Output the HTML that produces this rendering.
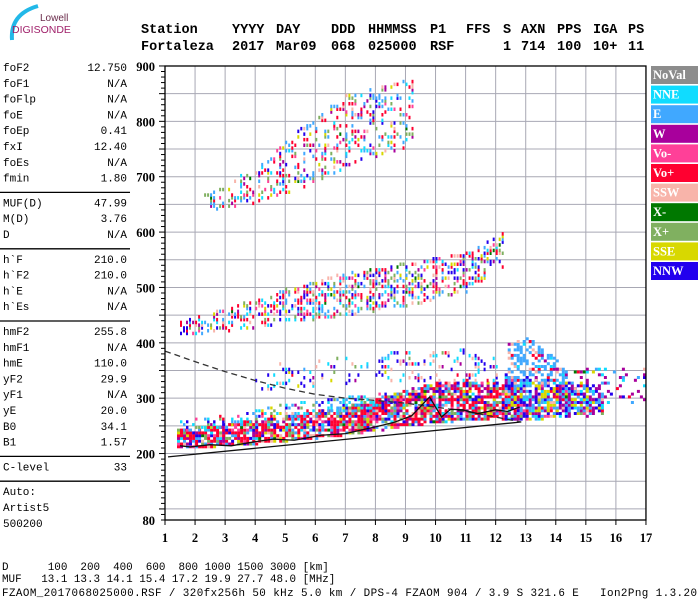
<!DOCTYPE html>
<html><head><meta charset="utf-8"><title>Ionogram Fortaleza</title>
<style>
body{margin:0;background:#fff;}
#wrap{position:relative;width:700px;height:600px;overflow:hidden;background:#fff;}
svg text{font-family:"Liberation Mono",monospace;}
.mono{font-family:"Liberation Mono",monospace;font-size:11px;fill:#000;}
.foot{font-family:"Liberation Mono",monospace;font-size:10.9px;fill:#000;}
.hdr{font-family:"Liberation Mono",monospace;font-size:13.5px;font-weight:bold;fill:#000;}
.ax{font-family:"Liberation Serif",serif;font-size:12.5px;font-weight:bold;fill:#000;}
.leg{font-family:"Liberation Serif",serif;font-size:12.5px;font-weight:bold;fill:#fff;}
</style></head>
<body>
<div id="wrap">
<svg id="svg" width="700" height="600" xmlns="http://www.w3.org/2000/svg">
  <g>
    <path d="M12 40 Q10 14 38 6" stroke="#22b8e8" stroke-width="4" fill="none"/>
    <text x="40" y="21" style="font-family:'Liberation Sans',sans-serif;font-size:10px;fill:#6a2a4a">Lowell</text>
    <text x="12" y="33" style="font-family:'Liberation Sans',sans-serif;font-size:10.5px;fill:#a0206a">DIGISONDE</text>
  </g>
  <g id="header"></g>
  <g id="params"></g>
  <g id="grid"></g>
  <g id="echoes"></g>
  <g id="traces"></g>
  <g id="axes"></g>
  <g id="legend"></g>
  <g id="footer"></g>
</svg>
</div>
<script>
// ---------- data ----------
const freqTicks = [1,2,3,4,5,6,7,8,9,10,11,12,13,14,15,16,17];
const heightTicks = [900,800,700,600,500,400,300,200,80];
const legendNames = ["NoVal","NNE","E","W","Vo-","Vo+","SSW","X-","X+","SSE","NNW"];
const legendColors = ["#8c8c8c","#10dcff","#40a8ff","#a8009c","#ff4098","#ff0030","#f8b4aa","#007800","#80b060","#d8d800","#2200ee"];
// echo band definitions: frequency nodes, lower/upper virtual heights (km)
const mainF = [1.4,2,3,4,5,6,7,8,9,10,11,12,12.8];
const mainLow = [212,213,216,220,225,230,236,243,252,258,262,266,262];
const mainHigh = [245,248,256,264,270,278,288,300,318,330,335,330,320];
const fringeF = [1.5,3,5,7,9];
const fringeLow = [240,250,262,275,290];
const fringeHigh = [262,272,292,305,315];
const eastF = [12.3,13,14,15,15.5];
const eastLow = [262,264,266,270,275];
const eastHigh = [345,340,335,325,310];
const eastTopF = [12.4,13,13.6,14.2];
const eastTopLow = [330,330,330,330];
const eastTopHigh = [405,412,395,360];
const tailF = [14,15,16,16.95];
const tailLow = [290,290,290,292];
const tailHigh = [358,356,356,356];
const scatF = [4,6,8,10,12];
const scatLow = [318,325,335,335,330];
const scatHigh = [365,370,385,392,388];
const hop2F = [1.5,3,5,7,9,11,12.2];
const hop2Low = [418,422,438,452,468,495,540];
const hop2High = [440,465,500,530,548,565,600];
const hop3F = [2.3,4,5.5,7,9.2];
const hop3Low = [640,655,680,720,760];
const hop3High = [670,720,790,850,880];
// traces
const lowerLineF = [1.1,12.85];
const lowerLineH = [194,257];
const dashF = [1,2,3,4,5,6,7,8,9,10,11,12,12.85];
const dashH = [385,366,348,332,318,307,300,296,291,284,276,266,257];
const traceF = [1.5,1.84,2.5,3.2,3.95,4.6,5.3,6.2,7,7.98,8.6,9.2,9.8,10.2,10.5,10.9,11.4,12,12.4,12.8];
const traceH = [214,212,216,214,221,226,224,233,236,248,256,268,302,266,280,279,272,279,276,284];
const leftLabels = [["foF2","12.750"],["foF1","N/A"],["foFlp","N/A"],["foE","N/A"],["foEp","0.41"],["fxI","12.40"],["foEs","N/A"],["fmin","1.80"],null,["MUF(D)","47.99"],["M(D)","3.76"],["D","N/A"],null,["h`F","210.0"],["h`F2","210.0"],["h`E","N/A"],["h`Es","N/A"],null,["hmF2","255.8"],["hmF1","N/A"],["hmE","110.0"],["yF2","29.9"],["yF1","N/A"],["yE","20.0"],["B0","34.1"],["B1","1.57"],null,["C-level","33"],null,["Auto:",""],["Artist5",""],["500200",""]];

// ---------- helpers ----------
const NS="http://www.w3.org/2000/svg";
const X0=165, XS=30.06, Y0=520, YS=0.5537;
function xF(f){return X0+(f-1)*XS;}
function yH(h){return Y0-(h-80)*YS;}
function mk(tag,attrs,parent){const e=document.createElementNS(NS,tag);for(const k in attrs)e.setAttribute(k,attrs[k]);parent.appendChild(e);return e;}
function interp(fs,vs,f){if(f<=fs[0])return vs[0];for(let i=1;i<fs.length;i++){if(f<=fs[i]){const t=(f-fs[i-1])/(fs[i]-fs[i-1]);return vs[i-1]+t*(vs[i]-vs[i-1]);}}return vs[vs.length-1];}
function hs(a,b,c){let n=(a*73856093)^(b*19349663)^(c*83492791);n=(n^(n>>>13))*1274126177;n=n^(n>>>16);return ((n>>>0)%10000)/10000;}

// ---------- header ----------
const hdr=document.getElementById('header');
const cols=[["Station","Fortaleza",141],["YYYY","2017",232],["DAY","Mar09",276],["DDD","068",331],["HHMMSS","025000",368],["P1","RSF",430],["FFS","",466],["S","1",503],["AXN","714",521],["PPS","100",557],["IGA","10+",593],["PS","11",628]];
cols.forEach(c=>{
  const t1=mk('text',{x:c[2],y:33,class:'hdr'},hdr);t1.textContent=c[0];
  
  
  const t2=mk('text',{x:c[2],y:50,class:'hdr'},hdr);t2.textContent=c[1];
  
  
});

// ---------- left params ----------
const pg=document.getElementById('params');
let py=71;
leftLabels.forEach(r=>{
  if(r===null){
    const l=mk('line',{x1:0,x2:130,y1:py-5,y2:py-5,stroke:'#000','stroke-width':1.3},pg);
    
    
    py+=9;return;
  }
  const a=mk('text',{x:3,y:py,class:'mono'},pg);a.textContent=r[0];
  
  
  const b=mk('text',{x:127,y:py,class:'mono','text-anchor':'end'},pg);b.textContent=r[1];
  
  
  py+=15.8;
});

// ---------- grid ----------
const gg=document.getElementById('grid');
for(let f=2;f<=16;f++){
  const l=mk('line',{x1:xF(f),x2:xF(f),y1:66,y2:Y0,stroke:'#a8a8b4','stroke-width':1},gg);
  
  
}
for(let h=100;h<900;h+=50){
  const l=mk('line',{x1:X0,x2:xF(17),y1:yH(h),y2:yH(h),stroke:'#a8a8b4','stroke-width':1},gg);
  
  
}

// ---------- echoes ----------
const eg=document.getElementById('echoes');
const bands=[
  {F:mainF,L:mainLow,H:mainHigh,d:0.8,w:[0,3,8,7,4,28,2,1,8,3,7],id:1,cw:3,ch:3},
  {F:fringeF,L:fringeLow,H:fringeHigh,d:0.4,w:[0,8,6,2,1,2,1,0,3,1,5],id:2,cw:2.4,ch:3},
  {F:eastF,L:eastLow,H:eastHigh,d:0.78,w:[0,4,9,7,1,2,2,0,1,8,9],id:3,cw:3,ch:3},
  {F:eastTopF,L:eastTopLow,H:eastTopHigh,d:0.5,w:[0,1,12,1,0,1,2,0,0,0,0],id:4,cw:3,ch:3},
  {F:tailF,L:tailLow,H:tailHigh,d:0.2,w:[0,3,3,8,0,1,1,1,0,1,2],id:5,cw:3,ch:3},
  {F:scatF,L:scatLow,H:scatHigh,d:0.16,w:[0,6,1,1,0,2,5,0,1,1,7],id:6,cw:2,ch:3.5},
  {F:hop2F,L:hop2Low,H:hop2High,d:0.45,w:[0,4,6,3,3,8,3,1,5,3,5],id:7,cw:2,ch:3.5},
  {F:hop3F,L:hop3Low,H:hop3High,d:0.3,w:[0,3,8,3,2,7,2,1,4,2,3],id:8,cw:2,ch:3.5}
];
bands.forEach(b=>{
  const tot=b.w.reduce((a,c)=>a+c,0);
  const i0=Math.round(b.F[0]*20), i1=Math.round(b.F[b.F.length-1]*20);
  for(let i=i0;i<=i1;i+=2){
    const f=i/20;
    const lo=interp(b.F,b.L,f), hi=interp(b.F,b.H,f);
    for(let j=Math.ceil(lo/5); j*5<=hi; j++){
      const h=j*5;
      if(hs(i,j,b.id)>b.d)continue;
      let r=hs(j+7,i+3,b.id+9)*tot, ci=0;
      for(;ci<b.w.length;ci++){r-=b.w[ci];if(r<0)break;}
      const rc=mk('rect',{x:xF(f).toFixed(1),y:yH(h).toFixed(1),width:b.cw,height:b.ch,fill:legendColors[Math.min(ci,10)]},eg);
      
      
    }
  }
});

// ---------- traces ----------
const tg=document.getElementById('traces');
const lowerPath=mk('polyline',{points:lowerLineF.map((f,i)=>xF(f)+','+yH(lowerLineH[i])).join(' '),stroke:'#111',fill:'none','stroke-width':1.3},tg);


const dashPath=mk('polyline',{points:dashF.map((f,i)=>xF(f)+','+yH(dashH[i])).join(' '),stroke:'#333',fill:'none','stroke-width':1.3,'stroke-dasharray':'6,4'},tg);


const tracePath=mk('polyline',{points:traceF.map((f,i)=>xF(f)+','+yH(traceH[i])).join(' '),stroke:'#111',fill:'none','stroke-width':1.3},tg);



// ---------- axes ----------
const ag=document.getElementById('axes');
const frame=mk('rect',{x:X0,y:66,width:xF(17)-X0,height:Y0-66,fill:'none',stroke:'#000','stroke-width':1.3},ag);


for(let h=80;h<=900;h+=10){
  const big=(h%50===0);
  const l=mk('line',{x1:X0-(big?6:4),x2:X0,y1:yH(h),y2:yH(h),stroke:'#000','stroke-width':1},ag);
  
  
}
heightTicks.forEach(h=>{
  const t=mk('text',{x:155,y:yH(h)+5,class:'ax','text-anchor':'end'},ag);t.textContent=h;
  
  
});
freqTicks.forEach(f=>{
  const l=mk('line',{x1:xF(f),x2:xF(f),y1:Y0,y2:Y0+5,stroke:'#000','stroke-width':1},ag);
  
  
  const t=mk('text',{x:xF(f),y:542,class:'ax','text-anchor':'middle'},ag);t.textContent=f;
  
  
});

// ---------- legend ----------
const lg=document.getElementById('legend');
legendNames.forEach((n,i)=>{
  const y=66+i*19.6;
  const r=mk('rect',{x:651,y:y,width:47,height:18,fill:legendColors[i]},lg);
  
  
  const t=mk('text',{x:653,y:y+13,class:'leg'},lg);t.textContent=n;
  
  
});

// ---------- footer ----------
const fg=document.getElementById('footer');
const foot=[["D      100  200  400  600  800 1000 1500 3000 [km]",2,570,0],["MUF   13.1 13.3 14.1 15.4 17.2 19.9 27.7 48.0 [MHz]",2,582,0],["FZAOM_2017068025000.RSF / 320fx256h 50 kHz 5.0 km / DPS-4 FZAOM 904 / 3.9 S 321.6 E   Ion2Png 1.3.20",2,596,695]];
foot.forEach(r=>{
  const t=mk('text',{x:r[1],y:r[2],class:'foot'},fg);t.textContent=r[0];
  t.setAttribute('style','white-space:pre');
  if(r[3]){t.setAttribute('textLength',r[3]);t.setAttribute('lengthAdjust','spacing');}
  
  
});
</script>
</body></html>
